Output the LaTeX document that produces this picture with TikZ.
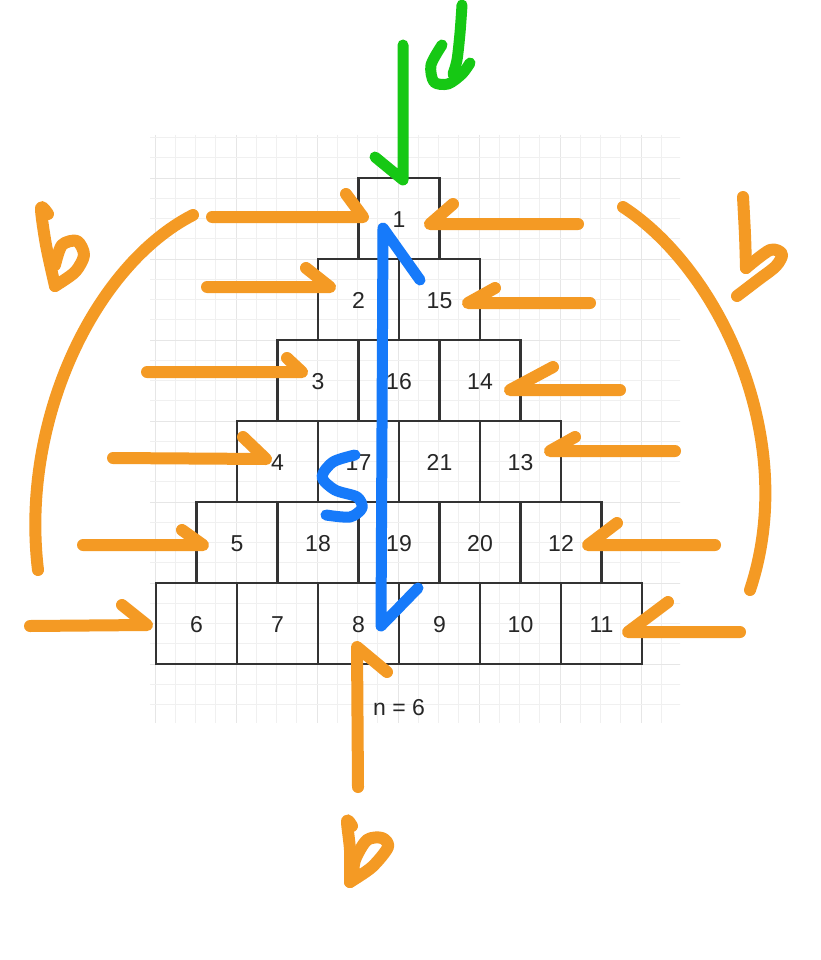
\documentclass[tikz,border=0pt]{standalone}
\usepackage{fontspec}
\setmainfont{Liberation Sans}
\definecolor{ora}{RGB}{244,154,36}
\definecolor{grn}{RGB}{22,200,20}
\definecolor{blu}{RGB}{22,122,250}
\definecolor{gridc}{RGB}{240,240,240}
\definecolor{gridm}{RGB}{230,230,230}
\begin{document}
\begin{tikzpicture}[x=1pt,y=-1pt,
  cell/.style={draw=black!80, line width=2.2pt, minimum width=81pt, minimum height=81pt,
    inner sep=0pt, font=\fontsize{23}{26}\selectfont, text=black!85, text depth=0pt},
  lbl/.style={font=\fontsize{23}{26}\selectfont, text=black!85, inner sep=1pt},
  ostroke/.style={draw=ora, line width=12pt, line cap=round, line join=round},
  gstroke/.style={draw=grn, line width=11pt, line cap=round, line join=round},
  bstroke/.style={draw=blu, line width=11pt, line cap=round, line join=round}]
\useasboundingbox (0,0) rectangle (820,960);
\fill[white] (0,0) rectangle (820,960);
% background grid
\begin{scope}
\clip (150,135) rectangle (680,722);
\foreach \k in {-1,...,26}{
  \pgfmathtruncatemacro{\m}{mod(\k+40,4)}
  \ifnum\m=0
    \draw[gridm, line width=0.9pt] ({155+20.25*\k},135) -- ++(0,600);
  \else
    \draw[gridc, line width=0.8pt] ({155+20.25*\k},135) -- ++(0,600);
  \fi}
\foreach \k in {-3,...,27}{
  \pgfmathtruncatemacro{\m}{mod(\k+40,4)}
  \ifnum\m=0
    \draw[gridm, line width=0.9pt] (140,{178+20.25*\k}) -- ++(560,0);
  \else
    \draw[gridc, line width=0.8pt] (140,{178+20.25*\k}) -- ++(560,0);
  \fi}
\end{scope}
% pyramid cells
\foreach \r/\lst in {1/{1}, 2/{2,15}, 3/{3,16,14}, 4/{4,17,21,13}, 5/{5,18,19,20,12}, 6/{6,7,8,9,10,11}}{
  \foreach \n [count=\c] in \lst{
    \node[cell] (b\r-\c) at ({399-40.5*(\r-1)+81*(\c-1)},{218.5+81*(\r-1)}) {\raisebox{-2.5pt}{\n}};
  }
}
\node[lbl] (nlab) at (399,708) {n = 6};
% left arrows
\draw[ostroke] (212,217) -- (363,217) -- (346,194);
\draw[ostroke] (207,287) -- (330,287) -- (306,268);
\draw[ostroke] (147,372) -- (302,372) -- (287,358);
\draw[ostroke] (113,458) -- (266,459) -- (243,437);
\draw[ostroke] (83,545) -- (203,545) -- (182,530);
\draw[ostroke] (30,626) -- (147,625) -- (122,605);
% right arrows
\draw[ostroke] (578,224) -- (430,224) -- (453,204);
\draw[ostroke] (590,303) -- (468,303) -- (495,288);
\draw[ostroke] (620,390) -- (510,390) -- (553,367);
\draw[ostroke] (675,451) -- (550,451) -- (575,437);
\draw[ostroke] (715,545) -- (588,545) -- (617,523);
\draw[ostroke] (740,632) -- (628,632) -- (668,602);
% arcs
\draw[ostroke] (193,215) .. controls (95,265) and (20,420) .. (38,570);
\draw[ostroke] (623,207) .. controls (720,270) and (800,440) .. (750,590);
% left b
\draw[ostroke] plot[smooth] coordinates {(48,214) (41,208) (46,245) (55,286)};
\draw[ostroke] plot[smooth] coordinates {(55,286) (75,272) (84,255) (77,241) (62,245) (55,265)};
% right b
\draw[ostroke] plot[smooth] coordinates {(743,197) (745,235) (746,268)};
\draw[ostroke] plot[smooth] coordinates {(746,268) (770,250) (782,254) (776,266) (758,280) (737,296)};
% bottom arrow and b
\draw[ostroke] (358,787) -- (357,647) -- (387,672);
\draw[ostroke] plot[smooth] coordinates {(352,826) (347,821) (350,850) (350,882)};
\draw[ostroke] plot[smooth] coordinates {(350,882) (372,867) (388,847) (382,838) (367,840) (355,860) (353,878)};
% green
\draw[gstroke] (403,45) -- (403,180) -- (375,157);
\draw[gstroke] plot[smooth] coordinates {(462,5) (460,33) (457,60) (453,74)};
\draw[gstroke] plot[smooth] coordinates {(442,45) (431,65) (434,82) (448,84) (462,74) (470,63)};
% blue
\draw[bstroke] (418,588) -- (381,626) -- (383,228) -- (420,280);
\draw[bstroke] plot[smooth] coordinates {(355,455) (333,462) (322,477) (335,490) (357,497) (362,508) (350,517) (326,515)};
\end{tikzpicture}
\end{document}
